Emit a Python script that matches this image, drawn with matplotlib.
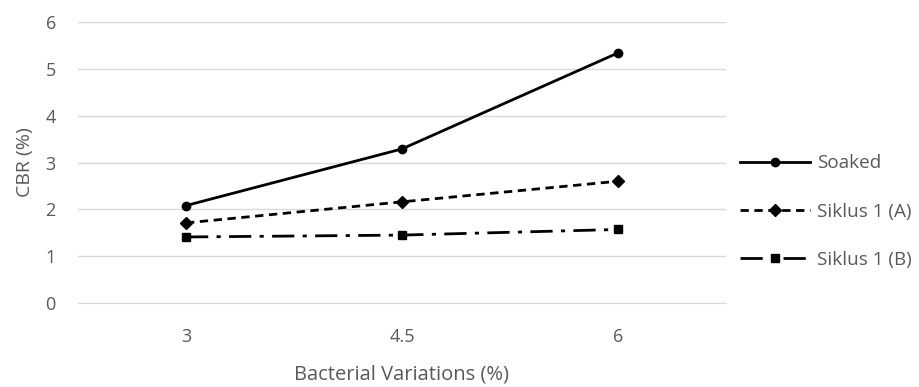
import matplotlib.pyplot as plt

# Data
categories = ['3', '4.5', '6']
soaked = [2.08, 3.29, 5.34]
siklus_a = [1.71, 2.16, 2.60]
siklus_b = [1.41, 1.45, 1.57]

plt.rcParams['font.family'] = ['Open Sans', 'DejaVu Sans']

fig = plt.figure(figsize=(9.2, 3.87), dpi=100)
ax = fig.add_axes([78 / 920, 1 - 303 / 387, (726 - 78) / 920, (303 - 22) / 387])

x = range(len(categories))
ax.plot(x, soaked, color='black', linewidth=2, marker='o', markersize=6,
        label='Soaked')
ax.plot(x, siklus_a, color='black', linewidth=2, linestyle=(0, (3, 2)),
        marker='D', markersize=6, label='Siklus 1 (A)')
ax.plot(x, siklus_b, color='black', linewidth=2, linestyle=(0, (8, 3, 1.5, 3)),
        marker='s', markersize=6, label='Siklus 1 (B)')

ax.set_xlim(-0.5, len(categories) - 0.5)
ax.set_ylim(0, 6)
ax.set_xticks(list(x))
ax.set_xticklabels(categories)
ax.set_yticks(range(0, 7))

ax.grid(axis='y', color='#d9d9d9', linewidth=1)
ax.set_axisbelow(True)
for side in ['top', 'right', 'left']:
    ax.spines[side].set_visible(False)
ax.spines['bottom'].set_color('#d9d9d9')
ax.tick_params(axis='y', length=0, labelsize=13, colors='#595959', pad=16)
ax.tick_params(axis='x', length=0, labelsize=13, colors='#595959', pad=18)

ax.set_xlabel('Bacterial Variations (%)', fontsize=14.5, color='#595959', labelpad=13)
ax.set_ylabel('CBR (%)', fontsize=14, color='#595959', labelpad=8)

leg = ax.legend(loc='center left', bbox_to_anchor=(0.995, 0.325), frameon=False,
                fontsize=13.6, handlelength=3.7, labelspacing=1.6,
                handletextpad=0.4)
for t in leg.get_texts():
    t.set_color('#595959')

fig.savefig('out.png', dpi=100)
